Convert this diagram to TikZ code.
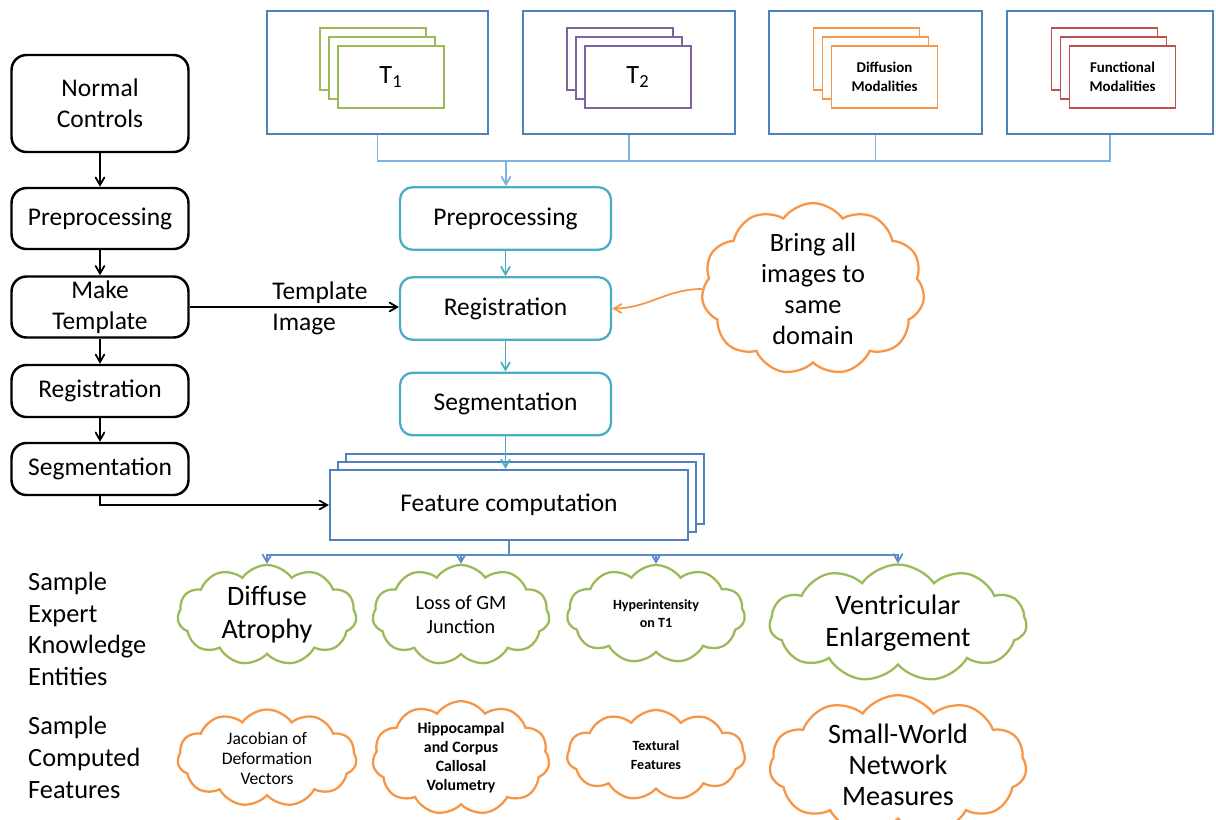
\documentclass[tikz,border=0pt]{standalone}
\usepackage{fontspec}
\setmainfont{Carlito}
\usepackage{xcolor}
\usepackage{tikz}
\usetikzlibrary{arrows,shapes}

\definecolor{boxblue}{RGB}{79,129,189}
\definecolor{aqua}{RGB}{75,172,198}
\definecolor{busblue}{RGB}{128,178,222}
\definecolor{lowblue}{RGB}{91,140,200}
\definecolor{tgreen}{RGB}{155,187,89}
\definecolor{tpurple}{RGB}{128,100,162}
\definecolor{torange}{RGB}{247,150,70}
\definecolor{tred}{RGB}{192,80,77}

\tikzset{
    stepnode/.style={draw, rounded corners=0.3cm, line width=1.4pt, minimum width=3.54cm, inner sep=2pt, align=center, font=\fontsize{14.5}{17.5}\selectfont},
    midnode/.style={draw=aqua, rounded corners=0.25cm, line width=1.3pt, minimum width=4.22cm, minimum height=1.25cm, font=\fontsize{14.5}{17.5}\selectfont},
    modbox/.style={draw=boxblue, line width=1.3pt, minimum height=2.46cm},
    sheet/.style={draw, fill=white, line width=1.1pt, minimum width=2.12cm, minimum height=1.24cm, align=center},
    featbox/.style={draw=boxblue, fill=white, line width=1.3pt, minimum width=7.16cm, minimum height=1.4cm, font=\fontsize{14.5}{17.5}\selectfont},
    puff/.style={cloud, cloud ignores aspect, cloud puffs=11, cloud puff arc=110, draw, line width=1.3pt, align=center, inner sep=0pt},
    flow/.style={->, >=angle 60, line width=1pt},
}

\begin{document}
\begin{tikzpicture}[x=0.02cm, y=-0.02cm]
        \useasboundingbox (0,0) rectangle (1216,819);

        % image modalities
        \node[modbox, minimum width=4.42cm] (mod1) at (377.5,72.5) {};
        \node[modbox, minimum width=4.24cm] (mod2) at (629,72.5) {};
        \node[modbox, minimum width=4.26cm] (mod3) at (875.5,72.5) {};
        \node[modbox, minimum width=4.12cm] (mod4) at (1110,72.5) {};

        \foreach \d in {18,9} {
            \node[sheet, draw=tgreen] (t1back\d) at (391-\d,77-\d) {};
            \node[sheet, draw=tpurple] (t2back\d) at (638-\d,77-\d) {};
            \node[sheet, draw=torange] (dtiback\d) at (884.5-\d,77-\d) {};
            \node[sheet, draw=tred] (fmriback\d) at (1122.5-\d,77-\d) {};
        }
        \node[sheet, draw=tgreen, font=\fontsize{15}{18}\selectfont] (t1) at (391,77) {T\textsubscript{1}};
        \node[sheet, draw=tpurple, font=\fontsize{15}{18}\selectfont] (t2) at (638,77) {T\textsubscript{2}};
        \node[sheet, draw=torange, font=\fontsize{8.5}{10.5}\selectfont\bfseries] (dti) at (884.5,77) {Diffusion\\Modalities};
        \node[sheet, draw=tred, font=\fontsize{8.5}{10.5}\selectfont\bfseries] (fmri) at (1122.5,77) {Functional\\Modalities};

        \coordinate (topbus) at (506,161);
        \draw[busblue, line width=1pt] (mod1.south) |- (topbus) -| (mod4.south);
        \draw[busblue, line width=1pt] (mod2.south) -- (mod2.south |- topbus);
        \draw[busblue, line width=1pt] (mod3.south) -- (mod3.south |- topbus);

        % patient pipeline
        \node[midnode] (pre) at (505.5,218.5) {Preprocessing};
        \node[midnode] (reg) at (505.5,308.5) {Registration};
        \node[midnode] (seg) at (505.5,404) {Segmentation};

        \node[featbox] (feat16) at (525,489) {};
        \node[featbox] (feat8) at (517,497) {};
        \node[featbox] (feat) at (509,505) {Feature computation};

        \draw[flow, busblue] (topbus) -- (topbus |- pre.north);
        \draw[flow, aqua] (pre) -- (reg);
        \draw[flow, aqua] (reg) -- (seg);
        \draw[flow, aqua] (seg.south) -- (seg.south |- feat.north);

        % normal controls
        \node[stepnode, minimum height=1.94cm] (nc) at (100,103.5) {Normal\\Controls};
        \node[stepnode, minimum height=1.22cm] (lpre) at (100,218.5) {Preprocessing};
        \node[stepnode, minimum height=1.22cm] (ltmpl) at (100,307) {Make\\Template};
        \node[stepnode, minimum height=1.04cm] (lreg) at (100,391) {Registration};
        \node[stepnode, minimum height=1.04cm] (lseg) at (100,469) {Segmentation};

        \draw[flow] (nc) -- (lpre);
        \draw[flow] (lpre) -- (ltmpl);
        \draw[flow] (ltmpl) -- (lreg);
        \draw[flow] (lreg) -- (lseg);

        \node[align=left, font=\fontsize{14.5}{17.5}\selectfont] (tmplimg) at (320,308) {Template\\Image};
        \draw[flow] (ltmpl.east) -- (ltmpl.east -| reg.west);
        \draw[flow] (lseg.south) |- (feat.west);

        \node[puff, draw=torange, minimum width=4.46cm, minimum height=3.36cm, font=\fontsize{15}{17.5}\selectfont] (domain) at (813,289) {Bring all\\images to\\same\\domain};
        \draw[flow, torange] (domain.west) to[out=180, in=0] (reg.east);

        % knowledge entities
        \node[anchor=west, align=left, font=\fontsize{15}{18}\selectfont] (expert) at (22,629) {Sample\\Expert\\Knowledge\\Entities};
        \node[anchor=west, align=left, font=\fontsize{15}{18}\selectfont] (computed) at (22,757.5) {Sample\\Computed\\Features};

        \node[puff, draw=tgreen, minimum width=3.58cm, minimum height=2cm, font=\fontsize{16}{18.8}\selectfont] (diffuse) at (267,615) {Diffuse\\Atrophy};
        \node[puff, draw=tgreen, minimum width=3.54cm, minimum height=2cm, font=\fontsize{11.5}{13.7}\selectfont] (gmloss) at (461,615) {Loss of GM\\Junction};
        \node[puff, draw=tgreen, minimum width=3.56cm, minimum height=1.96cm, font=\fontsize{8}{10.2}\selectfont\bfseries] (hyper) at (656,614) {Hyperintensity\\on T1};
        \node[puff, draw=tgreen, minimum width=5.14cm, minimum height=2.34cm, font=\fontsize{16}{18.5}\selectfont] (ventr) at (898,623) {Ventricular\\Enlargement};

        \node[puff, draw=torange, minimum width=3.58cm, minimum height=1.94cm, font=\fontsize{10}{11.4}\selectfont] (jacob) at (267,758) {Jacobian of\\Deformation\\Vectors};
        \node[puff, draw=torange, minimum width=3.54cm, minimum height=1.94cm, font=\fontsize{9}{10.8}\selectfont\bfseries] (hippo) at (461,758) {Hippocampal\\and Corpus\\Callosal\\Volumetry};
        \node[puff, draw=torange, minimum width=3.56cm, minimum height=1.8cm, font=\fontsize{8}{10.8}\selectfont\bfseries] (textur) at (656,755) {Textural\\Features};
        \node[puff, draw=torange, minimum width=5.14cm, minimum height=2.14cm, font=\fontsize{16}{17.6}\selectfont] (smallw) at (898,765) {Small-World\\Network\\Measures};

        \coordinate (lowbus) at (509,555);
        \draw[lowblue, line width=1pt] (feat.south) -- (lowbus);
        \draw[flow, lowblue] (lowbus) -| (diffuse.north);
        \draw[flow, lowblue] (lowbus) -| (gmloss.north);
        \draw[flow, lowblue] (lowbus) -| (hyper.north);
        \draw[flow, lowblue] (lowbus) -| (ventr.north);
\end{tikzpicture}
\end{document}
